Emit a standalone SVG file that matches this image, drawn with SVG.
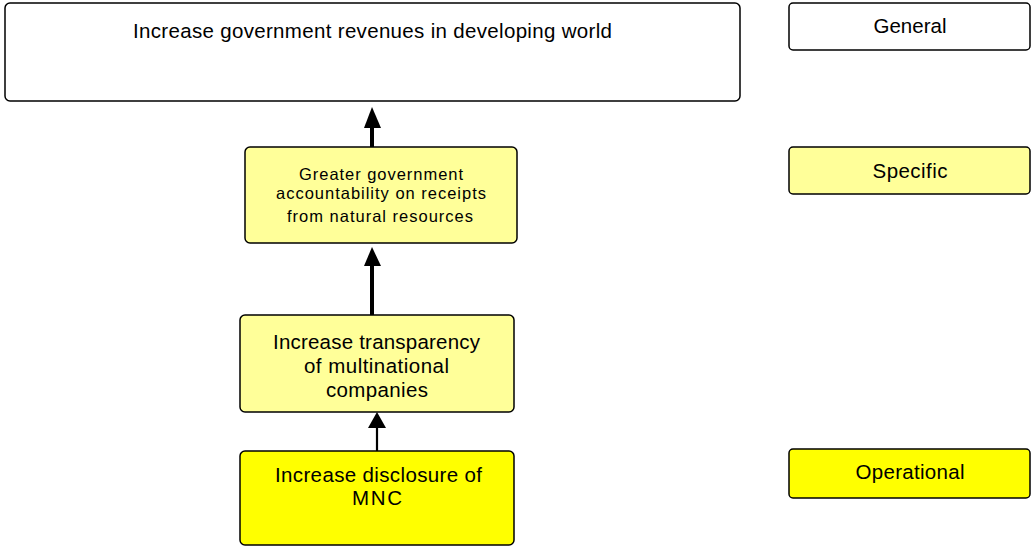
<svg xmlns="http://www.w3.org/2000/svg" width="1032" height="546" viewBox="0 0 1032 546">
<style>
.box{stroke:#000;stroke-width:1.5}
.w{fill:#fff}.ly{fill:#ffff99}.y{fill:#ffff00}
text{font-family:"Liberation Sans",Arial,sans-serif;fill:#000;text-anchor:middle}
.big{font-size:20.5px}.sm{font-size:16.5px}
</style>
<rect width="1032" height="546" fill="#fff"/>
<g id="connectors">
<path d="M372 147V125" stroke="#000" stroke-width="4"/>
<path d="M372 107L364 128H381Z" fill="#000"/>
<path d="M372 315V263" stroke="#000" stroke-width="4"/>
<path d="M372 247L364 266H381Z" fill="#000"/>
<path d="M377 451V426" stroke="#000" stroke-width="2.2"/>
<path d="M377 412L368 428H386Z" fill="#000"/>
</g>
<g id="goal">
<rect class="box w" x="5" y="3" width="735" height="98" rx="5"/>
<text class="big" x="372.5" y="38" textLength="479" lengthAdjust="spacing">Increase government revenues in developing world</text>
</g>
<g id="accountability">
<rect class="box ly" x="245" y="147" width="272" height="96" rx="5"/>
<text class="sm" x="381" y="180" textLength="164" lengthAdjust="spacing">Greater government</text>
<text class="sm" x="381" y="199" textLength="210" lengthAdjust="spacing">accountability on receipts</text>
<text class="sm" x="380" y="222" textLength="186" lengthAdjust="spacing">from natural resources</text>
</g>
<g id="transparency">
<rect class="box ly" x="240" y="315" width="274" height="97" rx="5"/>
<text class="big" x="376.5" y="349" textLength="207" lengthAdjust="spacing">Increase transparency</text>
<text class="big" x="376.5" y="373" textLength="145" lengthAdjust="spacing">of multinational</text>
<text class="big" x="377" y="397" textLength="102" lengthAdjust="spacing">companies</text>
</g>
<g id="disclosure">
<rect class="box y" x="240" y="451" width="274" height="94" rx="5"/>
<text class="big" x="378.5" y="482" textLength="207" lengthAdjust="spacing">Increase disclosure of</text>
<text class="big" x="377" y="505" textLength="50" lengthAdjust="spacing">MNC</text>
</g>
<g id="general">
<rect class="box w" x="789" y="3" width="241" height="47" rx="4"/>
<text class="big" x="910" y="33" textLength="73" lengthAdjust="spacing">General</text>
</g>
<g id="specific">
<rect class="box ly" x="789" y="147" width="241" height="47" rx="4"/>
<text class="big" x="910" y="178" textLength="75" lengthAdjust="spacing">Specific</text>
</g>
<g id="operational">
<rect class="box y" x="789" y="449" width="241" height="49" rx="4"/>
<text class="big" x="910" y="479" textLength="109" lengthAdjust="spacing">Operational</text>
</g>
</svg>
